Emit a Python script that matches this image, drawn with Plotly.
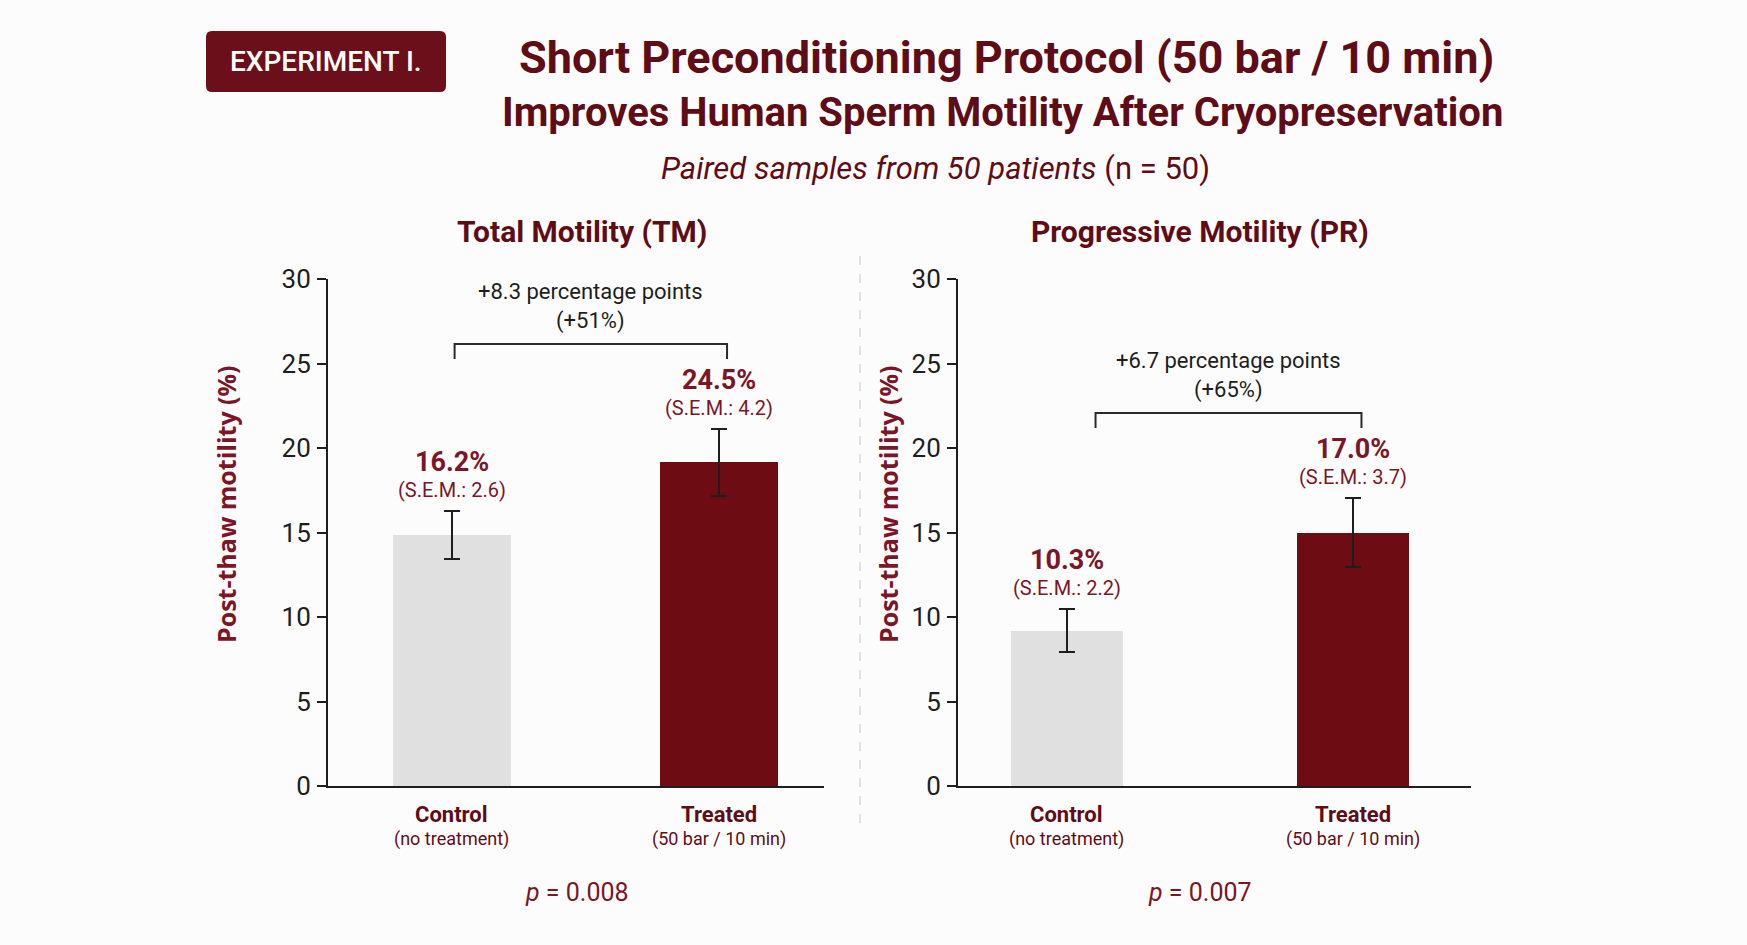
import plotly.graph_objects as go

# ---------------- data ----------------
categories = ["Control", "Treated"]
category_notes = ["(no treatment)", "(50 bar / 10 min)"]
panel_titles = ["Total Motility (TM)", "Progressive Motility (PR)"]

tm_values = [14.85, 19.15]
tm_errors = [1.4, 2.0]
pr_values = [9.2, 15.0]
pr_errors = [1.25, 2.07]

tm_labels = ["16.2%", "24.5%"]
tm_sem = ["2.6", "4.2"]
pr_labels = ["10.3%", "17.0%"]
pr_sem = ["2.2", "3.7"]

diff_points = ["+8.3 percentage points", "+6.7 percentage points"]
diff_percent = ["(+51%)", "(+65%)"]
p_values = ["0.008", "0.007"]
y_ticks = [0, 5, 10, 15, 20, 25, 30]

# ---------------- style ----------------
W, H = 1747, 945
NARROW = "Roboto, sans-serif"
WIDE = "Open Sans, Lato, sans-serif"
DARK_RED = "#5e0d17"
LABEL_RED = "#7a1628"
BAR_COLORS = ["#e0e0e0", "#6e0c14"]
INK = "#1e1e1e"


def px(x):
    return x / W


def py(y):
    return 1 - y / H


def ann(**kw):
    kw.setdefault("showarrow", False)
    kw.setdefault("xanchor", "center")
    kw.setdefault("yanchor", "middle")
    return kw


panels = [
    dict(values=tm_values, errors=tm_errors, labels=tm_labels, sem=tm_sem,
         xdom=[px(328), px(824)], xrange=[-0.464, 1.393], width=0.44,
         br=[0.01, 1.03], ytitle_x=226, title_x=582, p_x=577),
    dict(values=pr_values, errors=pr_errors, labels=pr_labels, sem=pr_sem,
         xdom=[px(958), px(1471)], xrange=[-0.381, 1.413], width=0.39,
         br=[0.10, 1.03], ytitle_x=888, title_x=1200, p_x=1200),
]
ydom = [py(786), py(279)]

fig = go.Figure()
annotations = []
shapes = []

for i, p in enumerate(panels):
    xa = "x" if i == 0 else "x2"
    ya = "y" if i == 0 else "y2"
    fig.add_trace(go.Bar(
        x=[0, 1], y=p["values"], width=p["width"],
        marker=dict(color=BAR_COLORS, line=dict(width=0)),
        error_y=dict(type="data", array=p["errors"], color=INK, thickness=2, width=8),
        xaxis=xa, yaxis=ya, showlegend=False, hoverinfo="skip",
    ))
    tops = [v + e for v, e in zip(p["values"], p["errors"])]
    for j in range(2):
        annotations.append(ann(
            x=j, y=tops[j], xref=xa, yref=ya, yshift=21,
            text="(S.E.M.: %s)" % p["sem"][j],
            font=dict(family=NARROW, size=20, color=LABEL_RED)))
        annotations.append(ann(
            x=j, y=tops[j], xref=xa, yref=ya, yshift=49,
            text="<b>%s</b>" % p["labels"][j],
            font=dict(family=NARROW, size=27, color=LABEL_RED)))
        annotations.append(ann(
            x=j, y=0, xref=xa, yref=ya, yshift=-28,
            text="<b>%s</b>" % categories[j],
            font=dict(family=NARROW, size=22, color=DARK_RED)))
        annotations.append(ann(
            x=j, y=0, xref=xa, yref=ya, yshift=-53,
            text=category_notes[j],
            font=dict(family=NARROW, size=18, color=DARK_RED)))
    # bracket
    by = max(tops) + 5.0
    bd = 0.88
    x0, x1 = p["br"]
    fig.add_trace(go.Scatter(
        x=[x0, x0, x1, x1], y=[by - bd, by, by, by - bd], mode="lines",
        line=dict(color="#2a2a2a", width=2), xaxis=xa, yaxis=ya,
        showlegend=False, hoverinfo="skip"))
    annotations.append(ann(
        x=(x0 + x1) / 2, y=by, xref=xa, yref=ya, yanchor="bottom", yshift=8,
        text="%s<br>%s" % (diff_points[i], diff_percent[i]),
        font=dict(family=NARROW, size=22, color=INK)))
    annotations.append(ann(
        x=px(p["title_x"]), y=py(232), xref="paper", yref="paper",
        text="<b>%s</b>" % panel_titles[i],
        font=dict(family=NARROW, size=30, color=DARK_RED)))
    annotations.append(ann(
        x=px(p["ytitle_x"]), y=py(504), xref="paper", yref="paper",
        text="<b>Post-thaw motility (%)</b>", textangle=-90,
        font=dict(family=WIDE, size=25, color=LABEL_RED)))
    annotations.append(ann(
        x=px(p["p_x"]), y=py(892), xref="paper", yref="paper",
        text="<i>p</i> = %s" % p_values[i],
        font=dict(family=NARROW, size=25, color=LABEL_RED)))

axis_common = dict(showgrid=False, zeroline=False, showline=True,
                   linecolor=INK, linewidth=2, automargin=False)
ytick_font = dict(family=NARROW, size=26, color=INK)
fig.update_layout(
    xaxis=dict(domain=panels[0]["xdom"], range=panels[0]["xrange"],
               showticklabels=False, ticks="", anchor="y", **axis_common),
    yaxis=dict(domain=ydom, range=[0, 30], tickvals=y_ticks, ticks="outside",
               ticklen=9, tickwidth=2, tickcolor=INK, anchor="x",
               ticklabelstandoff=1, tickfont=ytick_font, **axis_common),
    xaxis2=dict(domain=panels[1]["xdom"], range=panels[1]["xrange"],
                showticklabels=False, ticks="", anchor="y2", **axis_common),
    yaxis2=dict(domain=ydom, range=[0, 30], tickvals=y_ticks, ticks="outside",
                ticklen=9, tickwidth=2, tickcolor=INK, anchor="x2",
                ticklabelstandoff=1, tickfont=ytick_font, **axis_common),
)

# header box with rounded corners
x0b, x1b, y0b, y1b = px(206), px(446), py(92), py(31)
rx, ry = 6 / W, 6 / H
path = (f"M {x0b+rx},{y0b} L {x1b-rx},{y0b} Q {x1b},{y0b} {x1b},{y0b+ry} "
        f"L {x1b},{y1b-ry} Q {x1b},{y1b} {x1b-rx},{y1b} L {x0b+rx},{y1b} "
        f"Q {x0b},{y1b} {x0b},{y1b-ry} L {x0b},{y0b+ry} Q {x0b},{y0b} {x0b+rx},{y0b} Z")
shapes.append(dict(type="path", xref="paper", yref="paper", path=path,
                   fillcolor="#6b0f1a", line=dict(width=0), layer="below"))
annotations.append(ann(x=px(326), y=py(62), xref="paper", yref="paper",
                       text="EXPERIMENT I.",
                       font=dict(family=NARROW, size=28, weight=500, color="white")))

# divider
shapes.append(dict(type="line", xref="paper", yref="paper",
                   x0=px(860), x1=px(860), y0=py(256), y1=py(824),
                   line=dict(color="#c8c8c8", width=1, dash="dash")))

# titles
annotations.append(ann(x=px(1006), y=py(57), xref="paper", yref="paper",
                       text="<b>Short Preconditioning Protocol (50 bar / 10 min)</b>",
                       font=dict(family=NARROW, size=45, color=DARK_RED)))
annotations.append(ann(x=px(1003), y=py(113), xref="paper", yref="paper",
                       text="<b>Improves Human Sperm Motility After Cryopreservation</b>",
                       font=dict(family=NARROW, size=40, color=DARK_RED)))
annotations.append(ann(x=px(936), y=py(168), xref="paper", yref="paper",
                       text="<i>Paired samples from 50 patients</i> (n = 50)",
                       font=dict(family=NARROW, size=31, color=DARK_RED)))

fig.update_layout(
    width=W, height=H, margin=dict(l=0, r=0, t=0, b=0, autoexpand=False),
    paper_bgcolor="#fcfcfc", plot_bgcolor="rgba(0,0,0,0)",
    annotations=annotations, shapes=shapes, bargap=0,
)

fig.write_html("out.html")
